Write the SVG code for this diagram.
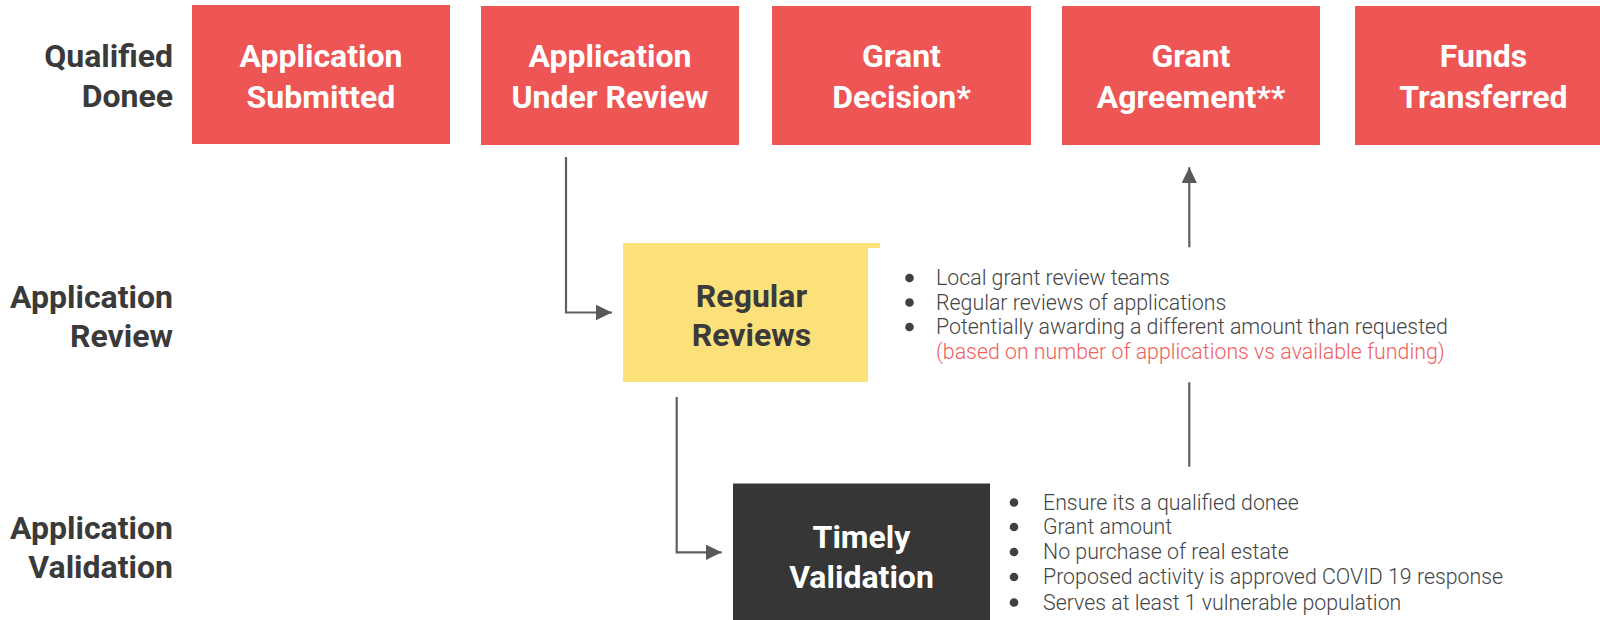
<svg xmlns="http://www.w3.org/2000/svg" width="1600" height="620" viewBox="0 0 1600 620">
<defs>
<style>
.lbl{font-family:Roboto,"Liberation Sans",sans-serif;font-weight:700;font-size:32px;fill:#3a3a3a;text-anchor:end}
.tw{font-family:Roboto,"Liberation Sans",sans-serif;font-weight:700;font-size:32px;fill:#ffffff;text-anchor:middle}
.td{font-family:Roboto,"Liberation Sans",sans-serif;font-weight:700;font-size:32px;fill:#3a3a3a;text-anchor:middle}
.red{fill:#ee5555}
.yel{fill:#fce17a}
.dark{fill:#363636}
.bt{font-family:Roboto,"Liberation Sans",sans-serif;font-weight:300;font-size:21.33px;fill:#444444}
.bt .note{fill:#f05e5e}
.dot{fill:#404040}
.conn{fill:none;stroke:#5f5f5f;stroke-width:2.2}
</style>
<marker id="ah" markerUnits="userSpaceOnUse" markerWidth="17" markerHeight="16" refX="16" refY="7.75" orient="auto">
<path d="M0,0 L16,7.75 L0,15.5 Z" fill="#585858"/>
</marker>
</defs>
<rect width="1600" height="620" fill="#ffffff"/>

<g id="labels">
<text class="lbl" x="173" y="67">Qualified</text>
<text class="lbl" x="173" y="107">Donee</text>
<text class="lbl" x="173" y="308">Application</text>
<text class="lbl" x="173" y="347">Review</text>
<text class="lbl" x="173" y="539">Application</text>
<text class="lbl" x="173" y="578">Validation</text>
</g>

<g id="application-submitted">
<rect class="red" x="192" y="5" width="258" height="139"/>
<text class="tw" x="321" y="67">Application</text>
<text class="tw" x="321" y="108">Submitted</text>
</g>
<g id="application-under-review">
<rect class="red" x="481" y="6" width="258" height="139"/>
<text class="tw" x="610" y="67">Application</text>
<text class="tw" x="610" y="108">Under Review</text>
</g>
<g id="grant-decision">
<rect class="red" x="772" y="6" width="259" height="139"/>
<text class="tw" x="901.5" y="67">Grant</text>
<text class="tw" x="901.5" y="108">Decision*</text>
</g>
<g id="grant-agreement">
<rect class="red" x="1062" y="6" width="258" height="139"/>
<text class="tw" x="1191" y="67">Grant</text>
<text class="tw" x="1191" y="108">Agreement**</text>
</g>
<g id="funds-transferred">
<rect class="red" x="1355" y="6" width="257" height="139"/>
<text class="tw" x="1483.5" y="67">Funds</text>
<text class="tw" x="1483.5" y="108">Transferred</text>
</g>

<g id="regular-reviews">
<rect class="yel" x="623" y="243" width="245" height="139"/>
<rect class="yel" x="868" y="243" width="12" height="5"/>
<text class="td" x="751.5" y="306.5">Regular</text>
<text class="td" x="751.5" y="346">Reviews</text>
</g>
<g id="review-notes">
<circle class="dot" cx="909.5" cy="278" r="4.3"/>
<circle class="dot" cx="909.5" cy="302.5" r="4.3"/>
<circle class="dot" cx="909.5" cy="327" r="4.3"/>
<text class="bt" x="936" y="285">Local grant review teams</text>
<text class="bt" x="936" y="309.5">Regular reviews of applications</text>
<text class="bt" x="936" y="334">Potentially awarding a different amount than requested</text>
<text class="bt" x="936" y="359"><tspan class="note">(based on number of applications vs available funding)</tspan></text>
</g>

<g id="timely-validation">
<rect class="dark" x="733" y="483.5" width="257" height="140"/>
<text class="tw" x="861.5" y="548">Timely</text>
<text class="tw" x="861.5" y="588">Validation</text>
</g>
<g id="validation-notes">
<circle class="dot" cx="1014" cy="502.5" r="4.3"/>
<circle class="dot" cx="1014" cy="527" r="4.3"/>
<circle class="dot" cx="1014" cy="552" r="4.3"/>
<circle class="dot" cx="1014" cy="577" r="4.3"/>
<circle class="dot" cx="1014" cy="602.5" r="4.3"/>
<text class="bt" x="1043" y="509.5">Ensure its a qualified donee</text>
<text class="bt" x="1043" y="534">Grant amount</text>
<text class="bt" x="1043" y="559">No purchase of real estate</text>
<text class="bt" x="1043" y="584">Proposed activity is approved COVID 19 response</text>
<text class="bt" x="1043" y="609.5">Serves at least 1 vulnerable population</text>
</g>

<g id="connectors">
<path class="conn" d="M566,157 V312.5 H612" marker-end="url(#ah)"/>
<path class="conn" d="M676.7,397 V552.3 H721.7" marker-end="url(#ah)"/>
<path class="conn" d="M1189.3,247.3 V167.3" marker-end="url(#ah)"/>
<path class="conn" d="M1189.3,382.3 V466.7"/>
</g>
</svg>
